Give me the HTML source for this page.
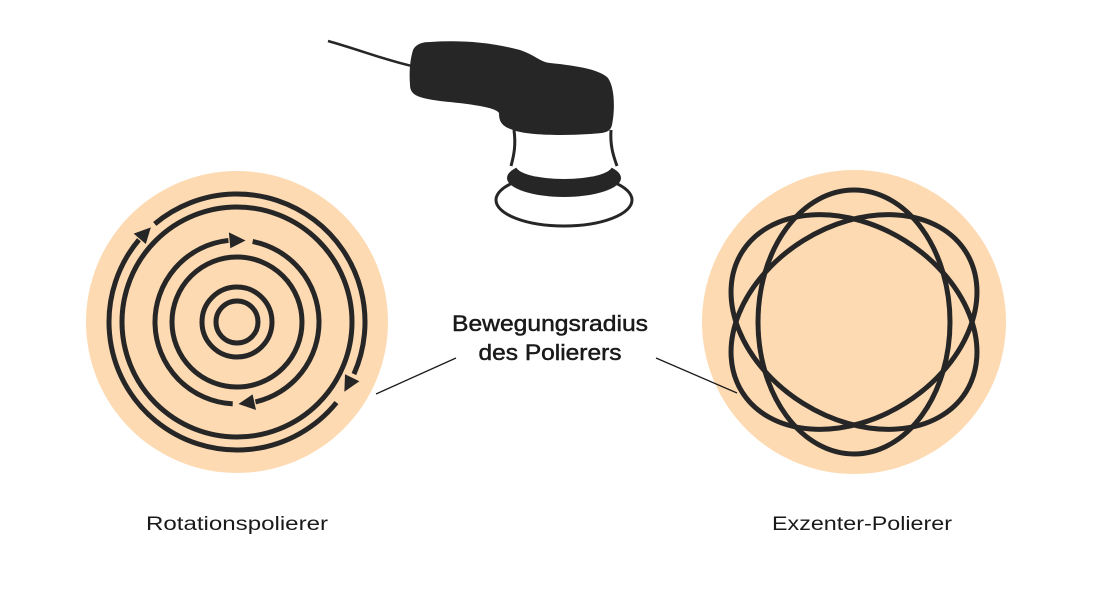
<!DOCTYPE html>
<html><head><meta charset="utf-8"><style>
html,body{margin:0;padding:0;background:#fff;}
svg{display:block;}
text{font-family:"Liberation Sans",sans-serif;fill:#1a1a1a;}
</style></head><body>
<svg id="s" width="1100" height="592" viewBox="0 0 1100 592" xmlns="http://www.w3.org/2000/svg">
<rect width="1100" height="592" fill="#fff"/>
<!-- polisher -->
<path d="M328,41 C360,50 385,60 412,66" fill="none" stroke="#262626" stroke-width="2.5"/>
<path d="M514,130 C516,145 514,155 510,165 L618,165 C614,155 610,145 611,130 Z" fill="#fff"/>
<ellipse cx="564" cy="200" rx="68" ry="26" fill="#fff" stroke="#262626" stroke-width="3"/>
<ellipse cx="564" cy="178" rx="57" ry="19" fill="#262626"/>
<ellipse cx="564" cy="166" rx="48" ry="13" fill="#fff"/>
<path d="M514,130 C516,145 514,155 511,166 M611,130 C610,145 613,155 617,166" fill="none" stroke="#262626" stroke-width="3"/>
<path d="M430,42 C460,40 490,42 520,50 C535,55 540,62 550,63 C580,66 600,70 608,78 C615,88 615,110 612,125 C610,133 604,133 590,134 C560,136 530,135 516,131 C502,127 499,122 499,113 C495,107 470,104 440,101 C418,98 410,95 410,85 C409,72 410,60 413,50 C416,44 422,42 430,42 Z" fill="#262626"/>
<!-- circles -->
<circle cx="237" cy="322" r="151" fill="#FDDAB2"/>
<circle cx="854" cy="322" r="152" fill="#FDDAB2"/>
<g fill="none" stroke="#262626" stroke-width="5">
<circle cx="237" cy="322" r="21"/>
<circle cx="237" cy="322" r="35"/>
<circle cx="237" cy="322" r="65"/>
<circle cx="237" cy="322" r="115"/>
</g>
<g fill="none" stroke="#262626" stroke-width="5">
<ellipse cx="854" cy="322" rx="96" ry="132"/>
<ellipse cx="854" cy="322" rx="96" ry="132" transform="rotate(58 854 322)"/>
<ellipse cx="854" cy="322" rx="96" ry="132" transform="rotate(-58 854 322)"/>
</g>
<!-- leader lines -->
<line x1="376" y1="394" x2="456" y2="358" stroke="#1a1a1a" stroke-width="1.3"/>
<line x1="656" y1="358" x2="737" y2="393" stroke="#1a1a1a" stroke-width="1.3"/>
<text x="550" y="331" text-anchor="middle" font-size="22" stroke="#1a1a1a" stroke-width="0.5" textLength="196" lengthAdjust="spacingAndGlyphs">Bewegungsradius</text>
<text x="550" y="360" text-anchor="middle" font-size="22" stroke="#1a1a1a" stroke-width="0.5" textLength="143" lengthAdjust="spacingAndGlyphs">des Polierers</text>
<text x="146" y="530" font-size="19" textLength="182" lengthAdjust="spacingAndGlyphs">Rotationspolierer</text>
<text x="772" y="530" font-size="19" textLength="180" lengthAdjust="spacingAndGlyphs">Exzenter-Polierer</text>
</svg>
<script>
(function(){
var s=document.getElementById('s'),NS='http://www.w3.org/2000/svg',cx=237,cy=322;
function P(r,a){a=a*Math.PI/180;return [cx+r*Math.cos(a),cy+r*Math.sin(a)];}
function arc(r,a1,a2){var p=P(r,a1),q=P(r,a2),large=(a2-a1)>180?1:0;
var e=document.createElementNS(NS,'path');
e.setAttribute('d','M'+p[0]+','+p[1]+' A'+r+','+r+' 0 '+large+' 1 '+q[0]+','+q[1]);
e.setAttribute('fill','none');e.setAttribute('stroke','#262626');e.setAttribute('stroke-width','5');s.appendChild(e);}
function head(r,at){var t=P(r,at);var len=16,d=len/r*180/Math.PI;var b=at-d;
var bo=P(r+8,b),bi=P(r-8,b);
var e=document.createElementNS(NS,'polygon');
e.setAttribute('points',t.join(',')+' '+bo.join(',')+' '+bi.join(','));
e.setAttribute('fill','#262626');s.appendChild(e);}
arc(128,-130,24);head(128,33);
arc(128,39,220);head(128,227.7);
arc(82,-79,77);head(82,89);
arc(82,93,264);head(82,276);
})();
</script>
</body></html>
